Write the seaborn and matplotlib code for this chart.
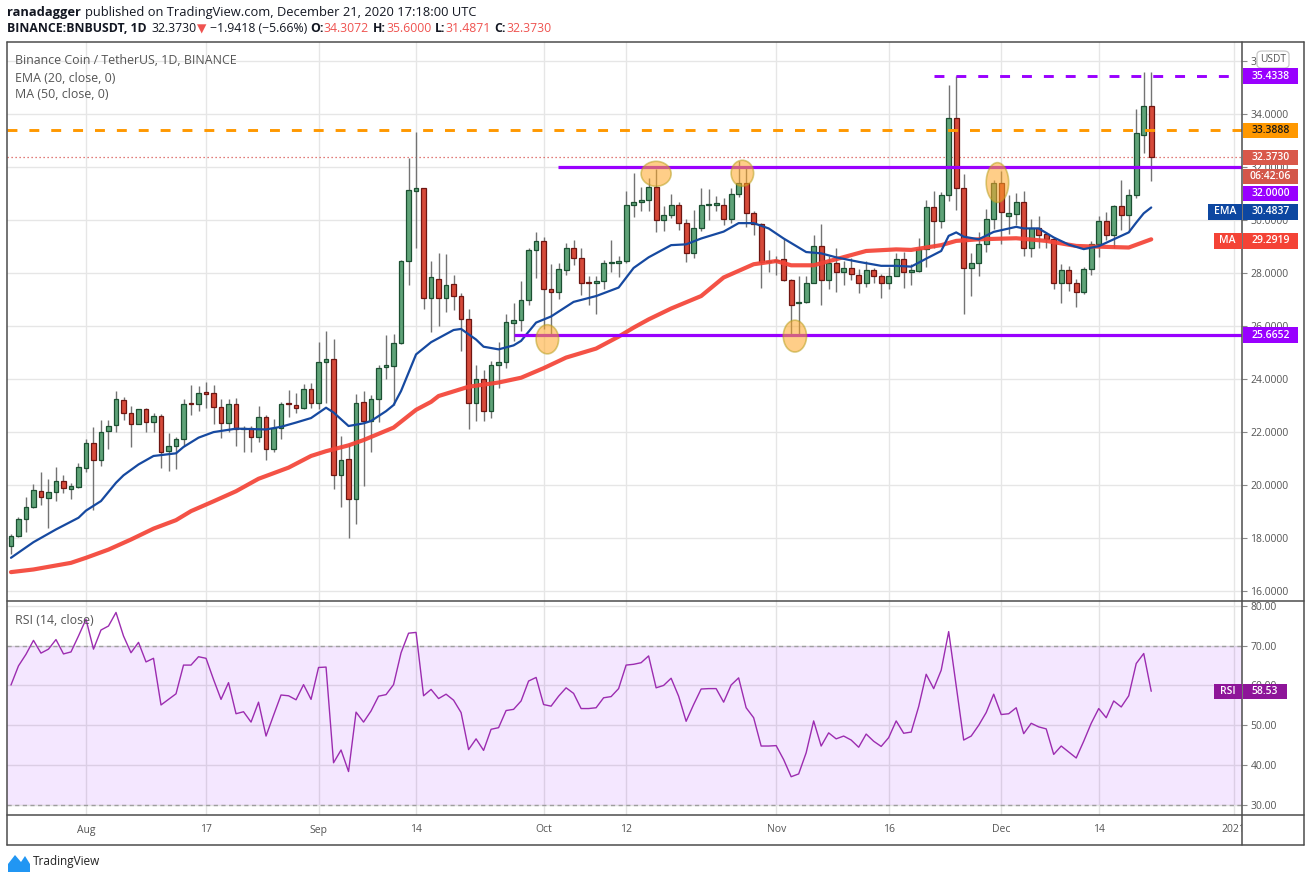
import matplotlib
matplotlib.use("Agg")
import numpy as np
import pandas as pd
import matplotlib.pyplot as plt
import matplotlib.dates as mdates
from matplotlib.patches import Ellipse, Rectangle, FancyBboxPatch, Polygon
from matplotlib.lines import Line2D
from matplotlib.transforms import Bbox, TransformedBbox
import seaborn as sns

# ---- data (BNB/USDT daily, 22 Jul - 21 Dec 2020) ----
START = "2020-07-22"

opens = [17.72, 18.09, 18.74, 19.20, 19.80, 19.54, 19.76, 20.18, 19.88, 19.95,
         20.67, 21.61, 20.97, 22.06, 22.28, 23.23, 22.74, 22.33, 22.89, 22.40,
         22.63, 21.31, 21.50, 21.76, 23.10, 23.08, 23.52, 23.47, 22.97, 22.37,
         23.08, 22.11, 22.18, 21.84, 22.59, 21.38, 22.18, 23.10, 23.05, 22.92,
         23.62, 23.12, 24.67, 24.75, 20.40, 21.00, 19.47, 23.16, 22.43, 23.27,
         24.46, 24.50, 25.38, 28.48, 31.12, 31.21, 27.08, 27.80, 27.08, 27.61,
         27.16, 26.29, 23.12, 24.03, 22.80, 24.55, 24.67, 26.14, 26.22, 26.98,
         28.86, 29.23, 27.42, 27.29, 28.12, 28.94, 28.59, 27.66, 27.65, 27.70,
         28.37, 28.37, 28.46, 30.59, 30.67, 30.78, 31.27, 29.99, 30.18, 30.59,
         29.88, 28.78, 29.69, 30.57, 30.58, 30.59, 30.06, 31.00, 31.42, 30.29,
         29.84, 28.43, 28.45, 28.52, 27.76, 26.86, 26.93, 27.65, 29.01, 27.74,
         28.37, 28.03, 28.19, 27.95, 27.65, 28.14, 27.91, 27.65, 27.91, 28.52,
         28.06, 28.08, 28.93, 30.49, 29.98, 30.94, 33.87, 31.23, 28.18, 28.40,
         29.12, 30.06, 31.42, 30.14, 30.22, 30.67, 28.97, 29.69, 29.47, 29.31,
         27.65, 28.11, 27.65, 27.31, 28.15, 29.12, 29.98, 29.46, 30.52, 30.19,
         30.94, 33.22, 34.3072]
highs = [18.15, 18.80, 19.55, 20.04, 20.49, 20.23, 20.68, 20.40, 20.10, 20.86,
         21.74, 22.19, 22.48, 22.45, 23.55, 23.32, 22.98, 22.89, 22.90, 22.74,
         22.71, 21.99, 21.84, 23.27, 23.77, 23.75, 23.90, 23.77, 23.25, 23.27,
         23.31, 22.24, 22.24, 23.00, 22.64, 22.49, 23.14, 23.58, 23.50, 23.81,
         23.87, 25.41, 25.82, 25.51, 21.86, 21.55, 23.43, 23.56, 23.40, 24.53,
         25.66, 25.70, 28.50, 32.36, 33.34, 31.23, 28.45, 28.78, 28.71, 27.95,
         27.27, 26.64, 24.53, 24.35, 24.68, 25.41, 26.45, 26.86, 27.70, 28.95,
         29.56, 29.35, 28.34, 28.40, 29.13, 29.26, 28.94, 27.88, 27.90, 28.49,
         29.25, 28.65, 31.09, 31.77, 31.27, 31.61, 31.92, 30.52, 30.98, 30.67,
         30.04, 30.38, 31.23, 31.17, 30.92, 30.82, 31.23, 32.24, 31.99, 30.35,
         29.89, 28.87, 28.65, 29.31, 27.78, 27.90, 27.90, 29.43, 29.85, 28.65,
         28.94, 28.46, 28.59, 28.15, 28.48, 28.18, 27.96, 28.22, 28.75, 28.81,
         28.33, 29.32, 30.78, 31.09, 31.08, 35.09, 35.43, 31.74, 28.78, 29.56,
         30.42, 31.52, 31.84, 30.94, 31.02, 31.09, 30.04, 30.14, 29.54, 29.35,
         28.34, 28.28, 27.77, 28.22, 29.22, 30.14, 30.32, 30.58, 31.51, 31.17,
         34.19, 35.57, 35.60]
lows = [17.43, 18.05, 18.24, 19.14, 19.26, 18.40, 19.41, 19.72, 19.50, 19.89,
        20.50, 19.06, 20.72, 21.38, 22.01, 22.46, 21.45, 22.31, 22.01, 22.01,
        20.65, 20.55, 20.63, 21.48, 22.67, 22.80, 22.93, 22.31, 21.80, 22.01,
        21.48, 21.26, 21.26, 21.63, 20.95, 21.26, 21.76, 22.58, 22.72, 22.87,
        22.93, 22.87, 23.12, 19.88, 19.20, 18.03, 18.53, 19.97, 21.26, 22.39,
        24.00, 23.02, 25.34, 27.56, 28.97, 26.67, 25.78, 26.01, 26.54, 26.62,
        25.07, 22.11, 22.43, 22.43, 22.55, 23.67, 24.43, 25.45, 25.82, 26.82,
        27.82, 25.89, 25.63, 27.02, 27.92, 28.30, 27.18, 26.80, 26.48, 27.40,
        28.03, 27.84, 28.40, 30.12, 30.33, 30.35, 29.54, 29.60, 30.10, 29.63,
        28.43, 28.59, 29.60, 30.01, 30.34, 29.81, 29.89, 30.86, 29.76, 29.43,
        27.46, 28.05, 27.92, 27.71, 25.70, 25.70, 26.86, 27.62, 26.82, 27.42,
        27.29, 27.57, 27.75, 27.27, 27.50, 27.65, 27.05, 27.42, 27.88, 27.45,
        27.56, 28.03, 28.25, 28.95, 29.72, 30.73, 30.39, 26.48, 27.14, 27.88,
        28.81, 29.66, 29.12, 29.47, 29.81, 28.65, 28.63, 28.97, 28.97, 27.42,
        26.89, 27.33, 26.71, 27.23, 27.94, 28.63, 29.26, 28.97, 29.63, 29.56,
        30.82, 32.52, 31.4871]
closes = [18.09, 18.74, 19.20, 19.84, 19.57, 19.76, 20.18, 19.91, 19.96, 20.68,
          21.61, 20.97, 22.03, 22.25, 23.27, 22.74, 22.33, 22.89, 22.40, 22.63,
          21.27, 21.50, 21.76, 23.08, 23.06, 23.50, 23.46, 22.97, 22.37, 23.08,
          22.11, 22.18, 21.84, 22.59, 21.38, 22.18, 23.08, 23.06, 22.92, 23.62,
          23.12, 24.67, 24.75, 20.38, 20.95, 19.47, 23.12, 22.43, 23.27, 24.44,
          24.53, 25.38, 28.48, 31.13, 31.21, 27.08, 27.84, 27.05, 27.57, 27.16,
          26.29, 23.12, 24.03, 22.80, 24.55, 24.67, 26.18, 26.22, 26.98, 28.86,
          29.23, 27.42, 27.29, 28.15, 28.94, 28.59, 27.65, 27.64, 27.70, 28.37,
          28.40, 28.46, 30.59, 30.67, 30.78, 31.27, 29.99, 30.18, 30.59, 29.88,
          28.78, 29.69, 30.59, 30.60, 30.64, 30.06, 31.00, 31.42, 30.29, 29.84,
          28.43, 28.48, 28.48, 27.76, 26.82, 26.93, 27.65, 29.01, 27.74, 28.37,
          28.06, 28.19, 27.99, 27.65, 28.14, 27.88, 27.65, 27.91, 28.52, 28.06,
          28.11, 28.93, 30.49, 29.98, 30.94, 33.87, 31.23, 28.18, 28.40, 29.12,
          30.06, 31.42, 30.32, 30.26, 30.67, 28.97, 29.69, 29.45, 29.31, 27.65,
          28.11, 27.65, 27.31, 28.15, 29.12, 29.98, 29.46, 30.52, 30.19, 30.94,
          33.27, 34.31, 32.3730]

# EMA(20) and MA(50) read at selected candles (candle number, value)
ema_idx = [0, 3, 6, 9, 10, 12, 14, 15, 17, 19, 22, 23, 25, 27, 30, 34, 36, 38, 40,
           42, 43, 45, 47, 48, 50, 51, 52, 53, 54, 56, 59, 60, 62, 63, 65, 67, 68,
           70, 72, 75, 78, 81, 83, 85, 88, 90, 92, 95, 97, 99, 101, 103, 106, 108,
           110, 113, 116, 118, 120, 122, 124, 125, 126, 127, 129, 131, 134, 135,
           137, 139, 141, 143, 145, 147, 149, 150, 151, 152]
ema_val = [17.27, 17.86, 18.34, 18.78, 19.05, 19.41, 20.10, 20.38, 20.79, 21.11,
           21.21, 21.45, 21.80, 22.01, 22.14, 22.11, 22.21, 22.37, 22.54, 22.93,
           22.75, 22.24, 22.34, 22.43, 22.80, 23.03, 23.56, 24.25, 24.94, 25.40,
           25.86, 25.90, 25.50, 25.23, 25.13, 25.28, 25.45, 26.14, 26.37, 26.92,
           27.14, 27.46, 28.20, 28.60, 29.06, 29.09, 29.31, 29.57, 29.89, 29.89,
           29.69, 29.31, 28.80, 28.75, 28.60, 28.43, 28.28, 28.28, 28.25, 28.55,
           28.84, 29.41, 29.54, 29.38, 29.28, 29.56, 29.75, 29.69, 29.69, 29.35,
           29.08, 28.91, 29.02, 29.28, 29.54, 29.91, 30.26, 30.48]
ma_idx = [0, 3, 8, 10, 13, 16, 19, 22, 24, 27, 30, 33, 37, 40, 42, 45, 47, 51, 54,
          56, 57, 61, 65, 68, 71, 74, 78, 81, 83, 85, 88, 92, 95, 99, 102, 104,
          107, 110, 114, 118, 120, 124, 126, 129, 134, 138, 142, 144, 149, 152]
ma_val = [16.73, 16.83, 17.08, 17.27, 17.58, 17.96, 18.37, 18.69, 19.03, 19.40,
          19.78, 20.25, 20.67, 21.11, 21.29, 21.51, 21.71, 22.18, 22.85, 23.15,
          23.37, 23.72, 23.88, 24.06, 24.42, 24.82, 25.16, 25.61, 25.95, 26.26,
          26.67, 27.14, 27.84, 28.34, 28.46, 28.30, 28.30, 28.53, 28.84, 28.90,
          28.88, 29.06, 29.22, 29.28, 29.32, 29.22, 29.03, 29.01, 28.97, 29.28]

# RSI(14), one value per candle
rsi_vals = [60.1, 64.9, 67.8, 71.3, 68.1, 69.1, 71.5, 67.9, 68.4, 72.4,
            76.6, 69.1, 73.9, 74.9, 78.3, 72.4, 68.2, 70.8, 65.9, 66.8,
            55.1, 56.5, 57.9, 65.1, 65.1, 67.2, 66.8, 61.5, 56.5, 60.7,
            52.9, 53.4, 50.8, 55.8, 47.3, 52.5, 57.6, 57.4, 56.4, 60.2,
            56.5, 64.5, 64.6, 40.6, 43.8, 38.4, 53.3, 50.8, 53.6, 57.3,
            57.7, 60.2, 68.2, 73.1, 73.3, 57.4, 59.0, 56.7, 57.8, 56.3,
            53.2, 43.9, 46.6, 43.7, 49.0, 49.4, 53.7, 54.0, 56.1, 61.1,
            62.0, 55.2, 54.8, 57.3, 59.4, 58.0, 54.2, 54.2, 54.4, 56.9,
            57.2, 59.2, 65.1, 65.3, 65.7, 67.4, 59.4, 60.0, 61.8, 57.3,
            51.0, 55.2, 59.1, 59.2, 59.2, 55.8, 60.1, 61.9, 54.4, 51.9,
            44.8, 44.8, 44.9, 41.4, 37.1, 37.8, 43.1, 51.1, 44.8, 48.1,
            46.6, 47.3, 46.3, 44.5, 47.8, 46.0, 44.7, 46.9, 51.1, 48.0,
            48.3, 54.7, 62.8, 59.2, 63.8, 73.5, 59.9, 46.3, 47.3, 50.0,
            53.2, 57.8, 52.7, 52.9, 54.4, 47.9, 50.5, 49.6, 49.1, 42.7,
            44.8, 43.3, 41.8, 46.0, 50.5, 54.2, 51.9, 56.1, 54.6, 57.4,
            65.5, 68.0, 58.53]

price_ticks = [16, 18, 20, 22, 24, 26, 28, 30, 32, 34, 36]
rsi_ticks = [30, 40, 50, 60, 70, 80]
time_tick_dates = ["2020-08-01", "2020-08-17", "2020-09-01", "2020-09-14",
                   "2020-10-01", "2020-10-12", "2020-11-01", "2020-11-16",
                   "2020-12-01", "2020-12-14", "2021-01-01"]
time_tick_labels = ["Aug", "17", "Sep", "14", "Oct", "12", "Nov", "16",
                    "Dec", "14", "2021"]

top_level = 35.4338
mid_level = 33.3888
last_price = 32.3730
resistance = 32.0000
support = 25.6652
ema_last = 30.4837
ma_last = 29.2919
rsi_last = 58.53

# drawn levels start dates, highlighted touches (date, price, width days, height)
top_from, res_from, sup_from = "2020-11-22", "2020-10-02 22:00", "2020-09-27 02:00"
touches = [("2020-10-01 12:00", 25.51, 3.0, 1.10),
           ("2020-10-16 00:00", 31.75, 4.0, 0.94),
           ("2020-10-27 12:00", 31.77, 3.0, 0.98),
           ("2020-11-03 12:00", 25.63, 3.1, 1.20),
           ("2020-11-30 12:00", 31.42, 3.0, 1.50)]

# ---- styling ----
GREEN, GREEN_EDGE = "#5fa378", "#1c5032"
RED, RED_EDGE = "#d64a3a", "#6e1612"
WICK = "#737373"
PURPLE = "#9900ff"
ORANGE = "#ff9800"
EMA_C = "#1649a0"
MA_C = "#f44336"
RSI_C = "#9c2cb0"
FRAME = "#4d4d4d"
TXT = "#555555"

sns.set_style("white")
plt.rcParams["font.family"] = ["Open Sans", "DejaVu Sans"]

W, H = 1311, 881
L, R, TOP, MID, BOT, TAXIS = 7, 1242, 42, 600.5, 815, 845
fig = plt.figure(figsize=(W / 100, H / 100), dpi=100)


def fx(px):
    return px / W


def fy(py):
    return 1 - py / H


ax = fig.add_axes([fx(L), fy(MID), (R - L) / W, (MID - TOP) / H])
ax_rsi = fig.add_axes([fx(L), fy(BOT), (R - L) / W, (BOT - MID) / H])

dates = pd.date_range(START, periods=len(closes), freq="D")
xs = mdates.date2num(dates)
o, hi, lo, c = map(np.array, (opens, highs, lows, closes))
x0 = xs[0]

# candles
up = c >= o
body_lo = np.minimum(o, c)
body_h = np.maximum(np.abs(c - o), 0.04)
ax.vlines(xs, lo, hi, color=WICK, lw=1, zorder=2)
ax.bar(xs[up], body_h[up], bottom=body_lo[up], width=0.64, color=GREEN,
       edgecolor=GREEN_EDGE, lw=0.9, zorder=3)
ax.bar(xs[~up], body_h[~up], bottom=body_lo[~up], width=0.64, color=RED,
       edgecolor=RED_EDGE, lw=0.9, zorder=3)

# moving averages
ma_df = pd.DataFrame({"x": xs[ma_idx], "v": ma_val})
ema_df = pd.DataFrame({"x": xs[ema_idx], "v": ema_val})
sns.lineplot(data=ma_df, x="x", y="v", ax=ax, color=MA_C, lw=3.0, alpha=0.92, zorder=4)
sns.lineplot(data=ema_df, x="x", y="v", ax=ax, color=EMA_C, lw=1.6, zorder=5)

# horizontal levels
xmax_num = x0 + 164.1
ax.axhline(last_price, color="#d9534f", lw=0.9, ls=(0, (1, 2.2)), zorder=1)
ln = ax.axhline(mid_level, color=ORANGE, lw=2.1, zorder=6)
ln.set_dashes((3.4, 4.1))
ln = ax.hlines(top_level, mdates.date2num(pd.Timestamp(top_from)), x0 + 162.5,
               color=PURPLE, lw=2.1, zorder=6)
ln.set_dashes([(0, (3.4, 4.1))])
ax.hlines(resistance, mdates.date2num(pd.Timestamp(res_from)), xmax_num,
          color=PURPLE, lw=2.3, zorder=6)
ax.hlines(support, mdates.date2num(pd.Timestamp(sup_from)), xmax_num,
          color=PURPLE, lw=2.3, zorder=6)

for d, p, wd, ht in touches:
    ax.add_patch(Ellipse((mdates.date2num(pd.Timestamp(d)), p), wd, ht,
                         facecolor="#ffa726", alpha=0.55, edgecolor="#b8a020",
                         lw=1.2, zorder=7))

ax.set_xlim(x0 - 0.53, xmax_num)
ax.set_ylim(15.66, 36.72)
ax.set_yticks(price_ticks)
ax.set_yticklabels([f"{v:.4f}" for v in price_ticks])
tick_x = mdates.date2num(pd.to_datetime(time_tick_dates))
ax.set_xticks(tick_x)
ax.grid(True, color="#e6e6e6", lw=1)
ax.set_axisbelow(True)
ax.set_xlabel("")
ax.set_ylabel("")
ax.yaxis.tick_right()
ax.tick_params(axis="y", length=3.5, width=0.8, color="#888888", labelsize=7.5,
               labelcolor=TXT, pad=2.5)
ax.tick_params(axis="x", length=0, labelbottom=False)

# RSI panel
ax_rsi.axhspan(30, 70, color="#9915ff", alpha=0.1, lw=0, zorder=1)
for lvl in (30, 70):
    ln = ax_rsi.axhline(lvl, color="#9e9e9e", lw=1, zorder=2)
    ln.set_dashes((3, 2.5))
rsi_df = pd.DataFrame({"x": xs, "rsi": rsi_vals})
sns.lineplot(data=rsi_df, x="x", y="rsi", ax=ax_rsi, color=RSI_C, lw=1.0, zorder=3)
ax_rsi.set_xlim(x0 - 0.53, xmax_num)
ax_rsi.set_ylim(27.5, 81.3)
ax_rsi.set_yticks(rsi_ticks)
ax_rsi.set_yticklabels([f"{v:.2f}" for v in rsi_ticks])
ax_rsi.set_xticks(tick_x)
ax_rsi.grid(True, color="#e3e3e3", lw=1)
ax_rsi.set_axisbelow(True)
ax_rsi.set_xlabel("")
ax_rsi.set_ylabel("")
ax_rsi.yaxis.tick_right()
ax_rsi.tick_params(axis="y", length=3.5, width=0.8, color="#888888", labelsize=7.5,
                   labelcolor=TXT, pad=2.5)
ax_rsi.tick_params(axis="x", length=3.5, width=0.8, color="#888888",
                   direction="out", labelbottom=False)

for a in (ax, ax_rsi):
    for s in a.spines.values():
        s.set_visible(False)

# frame lines
for (xa, ya, xb, yb) in [(L, TOP, 1304, TOP), (L, TAXIS, 1304, TAXIS),
                         (L, TOP, L, TAXIS), (1304, TOP, 1304, TAXIS),
                         (R, TOP, R, TAXIS), (L, MID, 1304, MID), (L, BOT, 1304, BOT)]:
    fig.add_artist(Line2D([fx(xa), fx(xb)], [fy(ya), fy(yb)], color=FRAME, lw=1.1,
                          transform=fig.transFigure))

# time axis labels (clipped at price scale like the original)
clip = TransformedBbox(Bbox([[fx(L), 0], [fx(R), 1]]), fig.transFigure)
for tx, lab in zip(tick_x, time_tick_labels):
    xp = ax_rsi.transData.transform((tx, 50))[0]
    t = fig.text(xp / W, fy(830), lab, ha="center", va="center", fontsize=7.5,
                 color=TXT)
    t.set_clip_box(clip)
    t.set_clip_on(True)

# legend texts
LEG = 8.9
fig.text(fx(15), fy(60), "Binance Coin / TetherUS, 1D, BINANCE", fontsize=LEG,
         color=TXT, va="center")
fig.text(fx(15), fy(78), "EMA (20, close, 0)", fontsize=LEG, color=TXT, va="center")
fig.text(fx(15), fy(95), "MA (50, close, 0)", fontsize=LEG, color=TXT, va="center")
fig.text(fx(15), fy(620), "RSI (14, close)", fontsize=LEG, color=TXT, va="center")

# header line with mixed styles
renderer = fig.canvas.get_renderer()


def chain(x_px, y_px, parts, size):
    for txt, color, weight, gap in parts:
        t = fig.text(fx(x_px), fy(y_px), txt, color=color, fontweight=weight,
                     fontsize=size, va="center", ha="left",
                     family=["Open Sans", "DejaVu Sans"])
        x_px += t.get_window_extent(renderer=renderer).width + gap


DARK, HRED = "#131722", "#ef5350"
chain(7, 12.5, [("ranadagger", DARK, "bold", 3.8),
                ("published on TradingView.com, December 21, 2020 17:18:00 UTC",
                 DARK, "normal", 0)], 9.3)
chain(7, 29, [("BINANCE:BNBUSDT, 1D", DARK, "bold", 5),
              (f"{last_price:.4f}", DARK, "normal", 0.5),
              ("\u25BC", HRED, "normal", 3),
              ("\u22121.9418 (\u22125.66%)", DARK, "normal", 3),
              ("O:", DARK, "bold", 0.5), (f"{opens[-1]:.4f}", HRED, "normal", 3.5),
              ("H:", DARK, "bold", 0.5), (f"{highs[-1]:.4f}", HRED, "normal", 3.5),
              ("L:", DARK, "bold", 0.5), (f"{lows[-1]:.4f}", HRED, "normal", 3.5),
              ("C:", DARK, "bold", 0.5), (f"{closes[-1]:.4f}", HRED, "normal", 0)], 8.8)


# right-hand price badges
def ypx(a, v):
    return H - a.transData.transform((x0, v))[1]


def badge(y_c, text, fc, tc="white", xa=1243, xb=1298, h=15.5, size=7.5):
    fig.add_artist(Rectangle((fx(xa), fy(y_c + h / 2)), (xb - xa) / W, h / H,
                             transform=fig.transFigure, fc=fc, ec="none", zorder=10))
    fig.text(fx((xa + xb) / 2), fy(y_c), text, ha="center", va="center",
             fontsize=size, color=tc, fontweight="semibold", zorder=11)


# USDT box over the top tick
fig.add_artist(FancyBboxPatch((fx(1257), fy(68)), 32 / W, 17 / H,
                              boxstyle="round,pad=0,rounding_size=0.004",
                              transform=fig.transFigure, fc="white", ec="#c8c8c8",
                              lw=0.9, zorder=10))
fig.text(fx(1273), fy(59.5), "USDT", ha="center", va="center", fontsize=7.3,
         color=TXT, zorder=11)

badge(ypx(ax, top_level), f"{top_level:.4f}", PURPLE)
badge(ypx(ax, mid_level), f"{mid_level:.4f}", ORANGE, tc="#1a1a1a")
badge(ypx(ax, last_price), f"{last_price:.4f}", "#d9584a")
badge(ypx(ax, last_price) + 19, "06:42:06", "#d3574a")
badge(ypx(ax, last_price) + 36, f"{resistance:.4f}", PURPLE)
badge(ypx(ax, ema_last) + 4.5, f"{ema_last:.4f}", "#0d47a1")
badge(ypx(ax, ema_last) + 4.5, "EMA", "#0d47a1", xa=1208, xb=1241.5)
badge(ypx(ax, ma_last) + 2, f"{ma_last:.4f}", MA_C)
badge(ypx(ax, ma_last) + 2, "MA", MA_C, xa=1214, xb=1241.5)
badge(ypx(ax, support), f"{support:.4f}", PURPLE)
badge(ypx(ax_rsi, rsi_last), f"{rsi_last:.2f}", "#8e1599", xa=1243, xb=1287)
badge(ypx(ax_rsi, rsi_last), "RSI", "#8e1599", xa=1214, xb=1241.5)

# TradingView logo
fig.add_artist(Polygon([[fx(8), fy(872)], [fx(8), fy(864)], [fx(15), fy(855)],
                        [fx(21), fy(862)], [fx(25), fy(856)], [fx(30), fy(864)],
                        [fx(30), fy(872)]], closed=True, transform=fig.transFigure,
                       fc="#2196f3", ec="none"))
fig.text(fx(33), fy(862), "TradingView", fontsize=8.5, color="#222222", va="center")

fig.savefig("out.png", dpi=100)
